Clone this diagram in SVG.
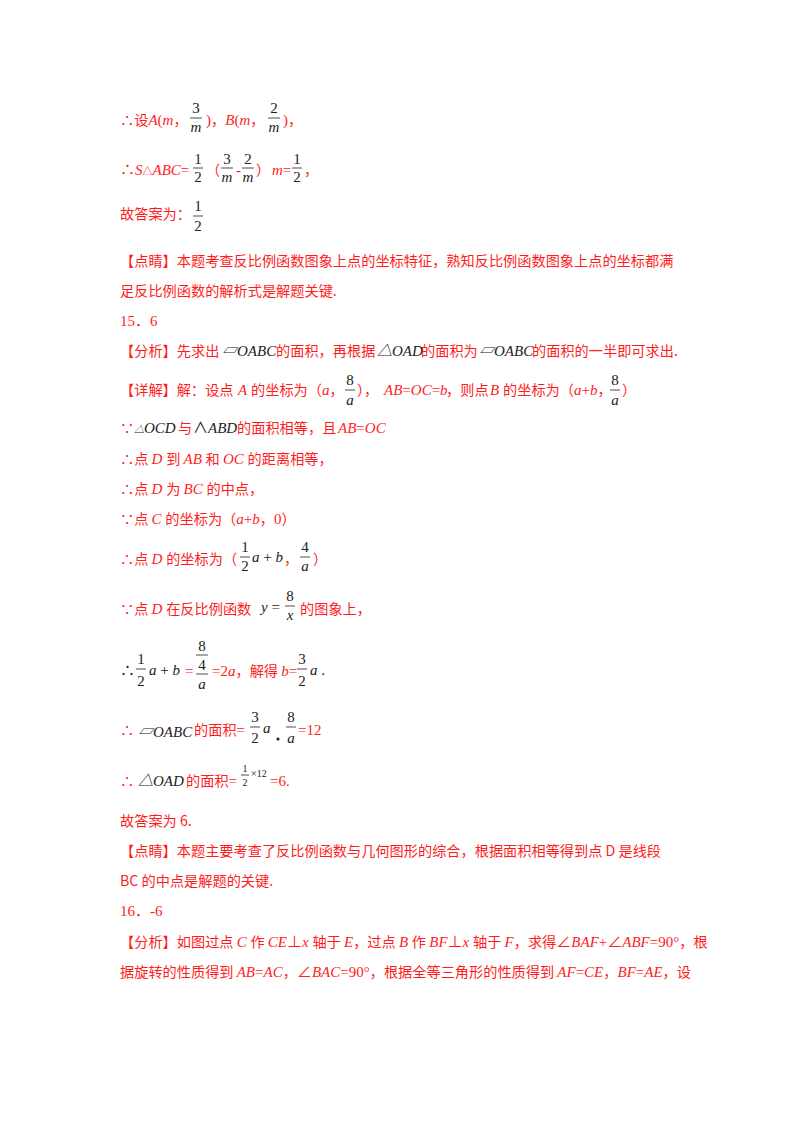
<svg xmlns="http://www.w3.org/2000/svg" width="800" height="1132" viewBox="0 0 800 1132">
<style>
text{font-family:"Liberation Serif","Noto Sans CJK SC",serif;font-size:15px;fill:#ff1c1c}
.c{font-family:"Noto Sans CJK SC","Liberation Serif",sans-serif;font-size:14.2px}
.i{font-style:italic}
.k{fill:#222}
.ki{fill:#222;font-style:italic}
.s{font-size:10px}
line{stroke:#222;stroke-width:0.8}
</style>
<rect width="800" height="1132" fill="#fff"/>
<g id="l1">
<text x="120" y="125"><tspan class="c">∴设</tspan><tspan class="i">A</tspan>(<tspan class="i">m</tspan><tspan class="c">，</tspan></text>
<text class="k" x="196" y="113" text-anchor="middle">3</text><line x1="190" y1="118" x2="202" y2="118"/><text class="ki" x="196" y="132" text-anchor="middle">m</text>
<text x="206" y="125"><tspan>)</tspan><tspan class="c">，</tspan><tspan class="i">B</tspan>(<tspan class="i">m</tspan><tspan class="c">，</tspan></text>
<text class="k" x="274" y="113" text-anchor="middle">2</text><line x1="268" y1="118" x2="280" y2="118"/><text class="ki" x="274" y="132" text-anchor="middle">m</text>
<text x="283" y="125">)<tspan class="c">，</tspan></text>
</g>
<g id="l2">
<text x="120" y="175"><tspan>∴</tspan><tspan class="i">S</tspan><tspan class="s">△</tspan><tspan class="i">ABC</tspan>=</text>
<text class="k" x="198" y="164" text-anchor="middle">1</text><line x1="193" y1="168" x2="203" y2="168"/><text class="k" x="198" y="182" text-anchor="middle">2</text>
<text x="206" y="175" class="c">（</text>
<text class="k" x="227" y="164" text-anchor="middle">3</text><line x1="221" y1="168" x2="233" y2="168"/><text class="ki" x="227" y="182" text-anchor="middle">m</text>
<text x="236" y="175">-</text>
<text class="k" x="248" y="164" text-anchor="middle">2</text><line x1="242" y1="168" x2="254" y2="168"/><text class="ki" x="248" y="182" text-anchor="middle">m</text>
<text x="256" y="175" class="c">）</text>
<text x="272" y="175"><tspan class="i">m</tspan>=</text>
<text class="k" x="297" y="164" text-anchor="middle">1</text><line x1="292" y1="168" x2="302" y2="168"/><text class="k" x="297" y="182" text-anchor="middle">2</text>
<text x="304" y="175" class="c">，</text>
</g>
<g id="l3">
<text x="120" y="219" class="c">故答案为：</text>
<text class="k" x="198" y="211" text-anchor="middle">1</text><line x1="193" y1="216" x2="203" y2="216"/><text class="k" x="198" y="231" text-anchor="middle">2</text>
</g>
<text x="120" y="266" class="c">【点睛】本题考查反比例函数图象上点的坐标特征，熟知反比例函数图象上点的坐标都满</text>
<text x="120" y="296" class="c">足反比例函数的解析式是解题关键.</text>
<text x="120" y="326">15．6</text>
<g id="l4">
<text x="120" y="356" class="c">【分析】先求出</text>
<text x="222" y="356" class="ki">▱OABC</text>
<text x="276" y="356" class="c">的面积，再根据</text>
<text x="377" y="356" class="ki">△OAD</text>
<text x="421" y="356" class="c">的面积为</text>
<text x="479" y="356" class="ki">▱OABC</text>
<text x="532" y="356" class="c">的面积的一半即可求出.</text>
</g>
<g id="l5">
<text x="120" y="395" class="c">【详解】解：设点</text>
<text x="238" y="395" class="i">A</text>
<text x="251" y="395" class="c">的坐标为（</text>
<text x="322" y="395"><tspan class="i">a</tspan><tspan class="c">，</tspan></text>
<text class="k" x="350" y="385" text-anchor="middle">8</text><line x1="345" y1="390" x2="355" y2="390"/><text class="ki" x="350" y="405" text-anchor="middle">a</text>
<text x="357" y="395" class="c">），</text>
<text x="384" y="395"><tspan class="i">AB</tspan>=<tspan class="i">OC</tspan>=<tspan class="i">b</tspan></text>
<text x="446" y="395" class="c">，则点</text>
<text x="490" y="395" class="i">B</text>
<text x="503" y="395" class="c">的坐标为（</text>
<text x="574" y="395"><tspan class="i">a</tspan>+<tspan class="i">b</tspan><tspan class="c">，</tspan></text>
<text class="k" x="615" y="385" text-anchor="middle">8</text><line x1="610" y1="390" x2="620" y2="390"/><text class="ki" x="615" y="405" text-anchor="middle">a</text>
<text x="622" y="395" class="c">）</text>
</g>
<g id="l6">
<text x="120" y="433" class="c">∵</text>
<text x="134" y="433" class="ki"><tspan class="s">△</tspan>OCD</text>
<text x="178" y="433" class="c">与</text>
<text x="193" y="433" class="ki"><tspan font-style="normal">∧</tspan>ABD</text>
<text x="237" y="433" class="c">的面积相等，且</text>
<text x="338" y="433"><tspan class="i">AB</tspan>=<tspan class="i">OC</tspan></text>
</g>
<text x="120" y="464"><tspan class="c">∴点 </tspan><tspan class="i">D </tspan><tspan class="c">到 </tspan><tspan class="i">AB </tspan><tspan class="c">和 </tspan><tspan class="i">OC </tspan><tspan class="c">的距离相等，</tspan></text>
<text x="120" y="494"><tspan class="c">∴点 </tspan><tspan class="i">D </tspan><tspan class="c">为 </tspan><tspan class="i">BC </tspan><tspan class="c">的中点，</tspan></text>
<text x="120" y="524"><tspan class="c">∵点 </tspan><tspan class="i">C </tspan><tspan class="c">的坐标为（</tspan><tspan class="i">a</tspan>+<tspan class="i">b</tspan><tspan class="c">，</tspan>0<tspan class="c">）</tspan></text>
<g id="l7">
<text x="120" y="564"><tspan class="c">∴点 </tspan><tspan class="i">D </tspan><tspan class="c">的坐标为（</tspan></text>
<text class="k" x="245" y="552" text-anchor="middle">1</text><line x1="240" y1="557" x2="250" y2="557"/><text class="k" x="245" y="571" text-anchor="middle">2</text>
<text class="k" x="252" y="562"><tspan class="i">a</tspan> + <tspan class="i">b</tspan></text>
<text x="284" y="564" class="c">，</text>
<text class="k" x="305" y="552" text-anchor="middle">4</text><line x1="300" y1="557" x2="310" y2="557"/><text class="ki" x="305" y="571" text-anchor="middle">a</text>
<text x="313" y="564" class="c">）</text>
</g>
<g id="l8">
<text x="120" y="614"><tspan class="c">∵点 </tspan><tspan class="i">D </tspan><tspan class="c">在反比例函数</tspan></text>
<text class="k" x="261" y="612"><tspan class="i">y</tspan> =</text>
<text class="k" x="290" y="601" text-anchor="middle">8</text><line x1="285" y1="606" x2="295" y2="606"/><text class="ki" x="290" y="620" text-anchor="middle">x</text>
<text x="300" y="614" class="c">的图象上，</text>
</g>
<g id="l9">
<text x="120" y="676" class="k">∴</text>
<text class="k" x="141" y="664" text-anchor="middle">1</text><line x1="136" y1="669" x2="146" y2="669"/><text class="k" x="141" y="686" text-anchor="middle">2</text>
<text class="k" x="149" y="675"><tspan class="i">a</tspan> + <tspan class="i">b</tspan></text>
<text x="185" y="676">=</text>
<text class="k" x="202" y="651" text-anchor="middle">8</text><line x1="196" y1="655" x2="208" y2="655"/><text class="k" x="202" y="670" text-anchor="middle">4</text><line x1="196" y1="674" x2="208" y2="674"/><text class="ki" x="202" y="689" text-anchor="middle">a</text>
<text x="212" y="676">=2<tspan class="i">a</tspan><tspan class="c">，解得 </tspan><tspan class="i">b</tspan>=</text>
<text class="k" x="302" y="664" text-anchor="middle">3</text><line x1="297" y1="669" x2="307" y2="669"/><text class="k" x="302" y="686" text-anchor="middle">2</text>
<text class="k" x="310" y="675"><tspan class="i">a</tspan> .</text>
</g>
<g id="l10">
<text x="120" y="735" class="c">∴</text>
<text x="138" y="737" class="ki">▱OABC</text>
<text x="194" y="735"><tspan class="c">的面积</tspan>=</text>
<text class="k" x="255" y="722" text-anchor="middle">3</text><line x1="250" y1="727" x2="260" y2="727"/><text class="k" x="255" y="743" text-anchor="middle">2</text>
<text class="ki" x="263" y="733">a</text>
<circle cx="278" cy="739" r="1.6" fill="#222"/>
<text class="k" x="291" y="722" text-anchor="middle">8</text><line x1="286" y1="727" x2="296" y2="727"/><text class="ki" x="291" y="743" text-anchor="middle">a</text>
<text x="298" y="735">=12</text>
</g>
<g id="l11">
<text x="120" y="786" class="c">∴</text>
<text x="138" y="786" class="ki">△OAD</text>
<text x="186" y="786"><tspan class="c">的面积</tspan>=</text>
<text class="k s" x="245" y="772" text-anchor="middle">1</text><line x1="241" y1="775" x2="249" y2="775"/><text class="k s" x="245" y="786" text-anchor="middle">2</text>
<text class="k s" x="251" y="777">×12</text>
<text x="270" y="786">=6.</text>
</g>
<text x="120" y="826" class="c">故答案为 6.</text>
<text x="120" y="856" class="c">【点睛】本题主要考查了反比例函数与几何图形的综合，根据面积相等得到点 D 是线段</text>
<text x="120" y="886" class="c">BC 的中点是解题的关键.</text>
<text x="120" y="916">16．-6</text>
<text x="120" y="947"><tspan class="c">【分析】如图过点 </tspan><tspan class="i">C </tspan><tspan class="c">作 </tspan><tspan class="i">CE</tspan>⊥<tspan class="i">x </tspan><tspan class="c">轴于 </tspan><tspan class="i">E</tspan><tspan class="c">，过点 </tspan><tspan class="i">B </tspan><tspan class="c">作 </tspan><tspan class="i">BF</tspan>⊥<tspan class="i">x </tspan><tspan class="c">轴于 </tspan><tspan class="i">F</tspan><tspan class="c">，求得</tspan>∠<tspan class="i">BAF</tspan>+∠<tspan class="i">ABF</tspan>=90°<tspan class="c">，根</tspan></text>
<text x="120" y="977"><tspan class="c">据旋转的性质得到 </tspan><tspan class="i">AB</tspan>=<tspan class="i">AC</tspan><tspan class="c">，</tspan>∠<tspan class="i">BAC</tspan>=90°<tspan class="c">，根据全等三角形的性质得到 </tspan><tspan class="i">AF</tspan>=<tspan class="i">CE</tspan><tspan class="c">，</tspan><tspan class="i">BF</tspan>=<tspan class="i">AE</tspan><tspan class="c">，设</tspan></text>
</svg>
